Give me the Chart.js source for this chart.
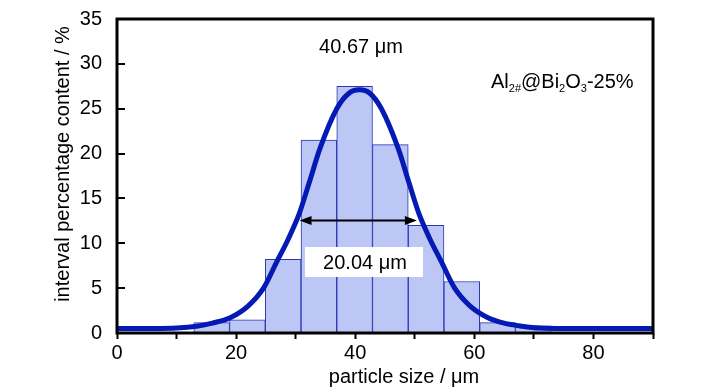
<!DOCTYPE html>
<html>
<head>
<meta charset="utf-8">
<script src="https://cdn.jsdelivr.net/npm/chart.js@4.4.0/dist/chart.umd.min.js"></script>
<style>
  html, body { margin: 0; padding: 0; background: #fff; }
</style>
</head>
<body>
<canvas id="chart" width="728" height="390"></canvas>
<script>
// --- data ---
// histogram bins: centre of each 6 um interval and its content (%)
const binCenters = [15.9, 21.9, 27.9, 33.9, 39.9, 45.9, 51.9, 57.9, 63.9, 69.9];
const binValues  = [1.16, 1.48, 8.2, 21.5, 27.5, 21.0, 12.0, 5.74, 1.16, 0.8];

// fitted distribution curve
const curveX = [0, 6, 10, 13.4, 16, 19, 22, 24.6, 26.8, 28.7, 30.6, 32.2, 34.1, 36.9, 38.9, 40.7,
                42.5, 44.4, 47.2, 49.1, 50.7, 52.6, 54.5, 56.7, 59.3, 62.3, 65, 68, 71, 75, 90];
const curveY = [0.5, 0.5, 0.55, 0.76, 1.1, 1.7, 3.0, 5.0, 7.9, 10.4, 13.3, 16.6, 20.6, 25.0, 26.7, 27.1,
                26.7, 25.0, 20.6, 16.6, 13.3, 10.4, 7.9, 5.0, 3.0, 1.7, 1.1, 0.76, 0.55, 0.5, 0.5];

const xTickLabels = [0, 20, 40, 60, 80];
const yTickValues = [0, 5, 10, 15, 20, 25, 30, 35];

const PEAK = 40.67;     // um
const FWHM = 20.04;     // um
const FWHM_LEVEL = 12.65; // % (height of the width arrow)

const FONT = "'Liberation Sans', Arial, Helvetica, sans-serif";

Chart.defaults.font.family = FONT;
Chart.defaults.font.size = 20;
Chart.defaults.color = '#000';

// arrow head helper
function arrowHead(ctx, tipX, y, dir) {
  ctx.beginPath();
  ctx.moveTo(tipX, y);
  ctx.lineTo(tipX - dir * 12, y - 4.5);
  ctx.lineTo(tipX - dir * 12, y + 4.5);
  ctx.closePath();
  ctx.fill();
}

// text with subscripts, pieces = [[text, isSub], ...]
function subText(ctx, pieces, x, y) {
  ctx.textAlign = 'left';
  ctx.textBaseline = 'alphabetic';
  for (const [t, sub] of pieces) {
    ctx.font = sub ? `11px ${FONT}` : `20px ${FONT}`;
    ctx.fillText(t, x, sub ? y + 4 : y);
    x += ctx.measureText(t).width;
  }
}

const extras = {
  id: 'extras',
  afterDatasetsDraw(chart) {
    const { ctx, chartArea: a, scales: { x, y } } = chart;
    ctx.save();

    // label boxes + text
    ctx.fillStyle = '#fff';
    ctx.fillRect(305, 247, 118, 30);
    ctx.fillStyle = '#000';
    ctx.font = `20px ${FONT}`;
    ctx.textAlign = 'center';
    ctx.textBaseline = 'middle';
    ctx.fillText('20.04 \u03bcm', 365, 263);
    ctx.fillText('40.67 \u03bcm', 361, 47);

    // FWHM double arrow
    const ya = Math.round(y.getPixelForValue(FWHM_LEVEL)) + 0.5;
    const x1 = x.getPixelForValue(PEAK - FWHM / 2);
    const x2 = x.getPixelForValue(PEAK + FWHM / 2) - 2;
    ctx.strokeStyle = '#000';
    ctx.lineWidth = 2;
    ctx.beginPath();
    ctx.moveTo(x1 + 8, ya);
    ctx.lineTo(x2 - 8, ya);
    ctx.stroke();
    arrowHead(ctx, x1, ya, -1);
    arrowHead(ctx, x2, ya, 1);

    // sample name
    subText(ctx, [['Al', false], ['2#', true], ['@Bi', false], ['2', true], ['O', false], ['3', true], ['-25%', false]], 491, 88);

    // frame
    ctx.lineWidth = 3;
    ctx.strokeRect(a.left, a.top, a.right - a.left, a.bottom - a.top);

    // inward y ticks
    ctx.lineWidth = 2;
    for (const v of yTickValues) {
      const py = Math.round(y.getPixelForValue(v));
      ctx.beginPath();
      ctx.moveTo(a.left, py);
      ctx.lineTo(a.left + 8, py);
      ctx.stroke();
    }

    // axis titles
    ctx.font = `20px ${FONT}`;
    ctx.textAlign = 'center';
    ctx.textBaseline = 'middle';
    ctx.fillText('particle size / \u03bcm', 404, 377);
    ctx.translate(63, 164);
    ctx.rotate(-Math.PI / 2);
    ctx.fillText('interval percentage content / %', 0, 0);

    ctx.restore();
  }
};

new Chart(document.getElementById('chart'), {
  type: 'bar',
  data: {
    datasets: [
      {
        type: 'line',
        order: 0,
        data: curveX.map((v, i) => ({ x: v, y: curveY[i] })),
        borderColor: 'rgb(5, 25, 180)',
        borderWidth: 5,
        pointRadius: 0,
        fill: false,
        cubicInterpolationMode: 'monotone'
      },
      {
        type: 'bar',
        order: 1,
        data: binCenters.map((v, i) => ({ x: v, y: binValues[i] })),
        backgroundColor: 'rgb(188, 199, 246)',
        borderColor: 'rgb(40, 55, 180)',
        borderWidth: 1,
        barPercentage: 1,
        categoryPercentage: 1
      }
    ]
  },
  plugins: [extras],
  options: {
    responsive: false,
    animation: false,
    devicePixelRatio: 1,
    layout: { padding: { top: 10, right: 75, left: 0, bottom: 0 } },
    plugins: { legend: { display: false }, tooltip: { enabled: false } },
    scales: {
      x: {
        type: 'linear',
        min: 0,
        max: 90,
        offset: false,
        grid: { display: true, offset: false, drawOnChartArea: false, drawTicks: true, tickLength: 6, tickWidth: 2, tickColor: '#000' },
        border: { display: false },
        ticks: {
          stepSize: 10,
          autoSkip: false,
          maxRotation: 0,
          padding: 2,
          callback: v => xTickLabels.includes(v) ? String(v) : ''
        },
        afterFit: s => { s.height = 57; }
      },
      y: {
        min: 0,
        max: 35,
        grid: { display: false },
        border: { display: false },
        ticks: { stepSize: 5, padding: 7 },
        afterFit: s => { s.width = 117; }
      }
    }
  }
});
</script>
</body>
</html>
